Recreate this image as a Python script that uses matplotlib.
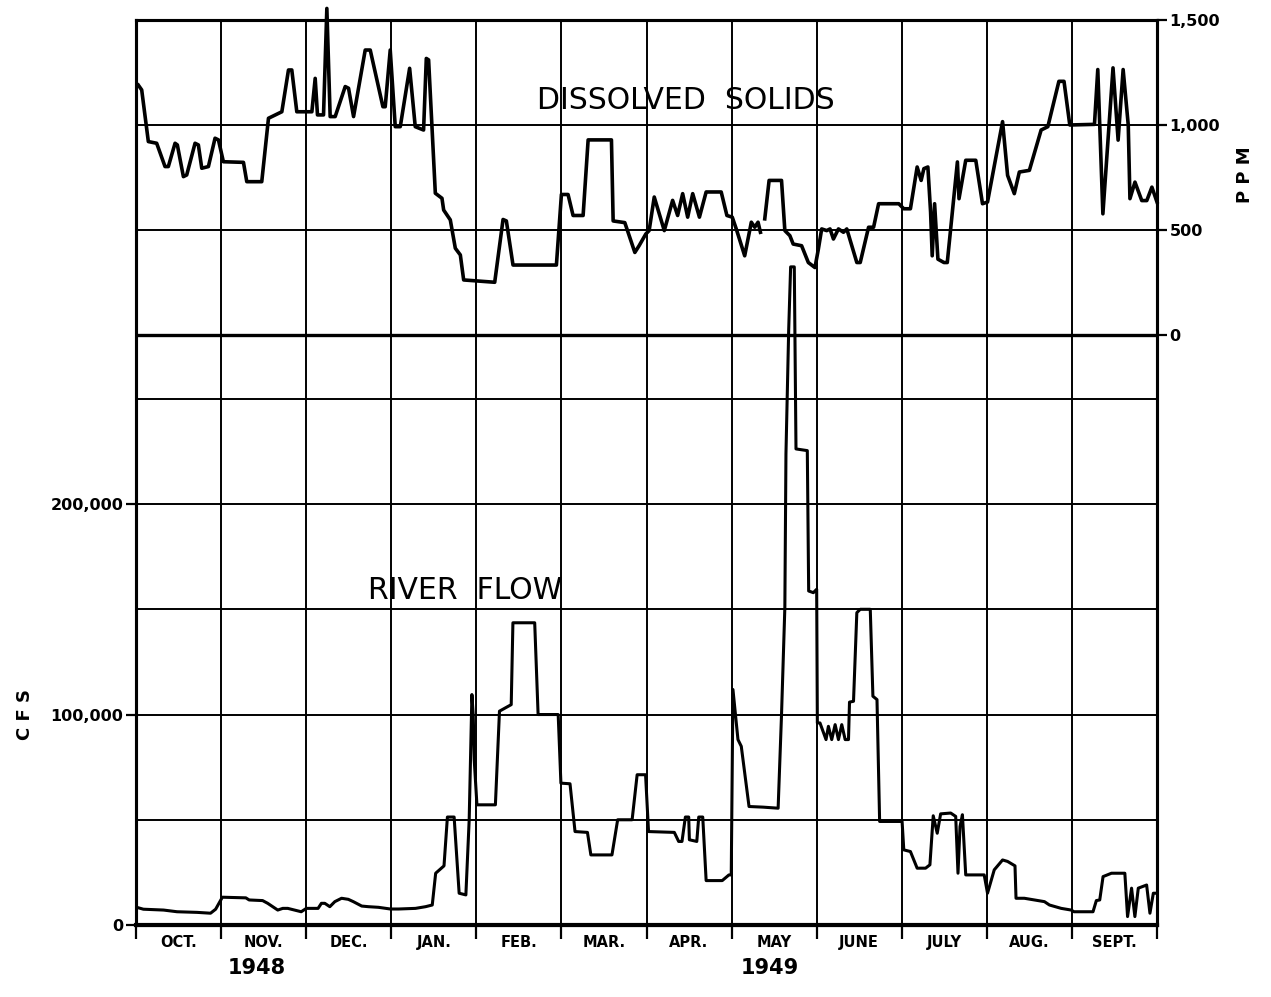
import numpy as np
import matplotlib.pyplot as plt

# water year Oct 1948 - Sep 1949, x in months from Oct 1
months = ["OCT.", "NOV.", "DEC.", "JAN.", "FEB.", "MAR.",
          "APR.", "MAY", "JUNE", "JULY", "AUG.", "SEPT."]

flow_t = [0.008, 0.087, 0.324, 0.482, 0.719, 0.876, 0.936, 1.015, 1.291, 1.330,
          1.488, 1.548, 1.666, 1.725, 1.784, 1.863, 1.942, 2.002, 2.140, 2.179,
          2.219, 2.278, 2.337, 2.416, 2.495, 2.554, 2.653, 2.732, 2.850, 2.989,
          3.087, 3.285, 3.403, 3.482, 3.522, 3.620, 3.660, 3.739, 3.798, 3.877,
          3.916, 3.948, 3.964, 3.975, 4.007, 4.224, 4.272, 4.410, 4.430, 4.686,
          4.726, 4.962, 4.994, 5.101, 5.160, 5.306, 5.346, 5.594, 5.661, 5.831,
          5.890, 5.989, 6.024, 6.327, 6.378, 6.417, 6.457, 6.496, 6.504, 6.591,
          6.614, 6.661, 6.701, 6.890, 6.969, 6.996, 7.016, 7.075, 7.114, 7.205,
          7.370, 7.547, 7.587, 7.626, 7.639, 7.671, 7.694, 7.737, 7.757, 7.890,
          7.906, 7.961, 8.000, 8.008, 8.039, 8.110, 8.138, 8.177, 8.217, 8.256,
          8.295, 8.335, 8.374, 8.386, 8.433, 8.472, 8.512, 8.630, 8.661, 8.709,
          8.740, 9.004, 9.024, 9.102, 9.181, 9.280, 9.331, 9.370, 9.417, 9.457,
          9.575, 9.634, 9.661, 9.685, 9.713, 9.752, 9.969, 10.008, 10.087, 10.185,
          10.244, 10.331, 10.343, 10.441, 10.677, 10.736, 10.874, 10.992, 11.024, 11.248,
          11.287, 11.327, 11.366, 11.465, 11.622, 11.654, 11.701, 11.740, 11.780, 11.878,
          11.917, 11.957, 11.996]
flow_cfs = [8400, 7500, 7100, 6300, 6000, 5600, 7500, 13200, 12900, 11900,
            11600, 10300, 7100, 7900, 7900, 7100, 6300, 7900, 7900, 10300,
            10300, 8700, 11100, 12700, 12200, 11100, 9000, 8700, 8400, 7600,
            7600, 7900, 8700, 9500, 24600, 28100, 51300, 51300, 15100, 14300,
            50000, 109500, 99200, 78600, 57100, 57100, 101600, 104700, 143600, 143600,
            100000, 100000, 67400, 67100, 44400, 44000, 33300, 33300, 50000, 50000,
            71400, 71400, 44400, 44000, 39700, 39700, 51300, 51300, 40500, 39700,
            51300, 51300, 21100, 21100, 23800, 23800, 111900, 88100, 84900, 56300,
            56000, 55500, 100000, 150800, 223800, 282500, 312700, 312700, 226200, 225400,
            158700, 157900, 159500, 96000, 96000, 88100, 94400, 88100, 95200, 88100,
            95200, 88100, 88100, 105900, 106300, 148400, 150000, 150000, 108700, 107100,
            49200, 49200, 35700, 34900, 27000, 27000, 28600, 51900, 43600, 52800,
            53200, 51600, 24600, 46800, 52400, 23800, 23800, 15100, 26200, 30900,
            30200, 28100, 12700, 12700, 11100, 9500, 7900, 7100, 6300, 6300,
            11600, 11900, 23000, 24600, 24600, 4000, 17500, 4000, 17500, 19000,
            5600, 15100, 15100]

tds_t = [0.027, 0.067, 0.145, 0.243, 0.341, 0.380, 0.459, 0.486, 0.557, 0.596,
         0.694, 0.733, 0.773, 0.851, 0.929, 0.969, 1.027, 1.263, 1.302, 1.478,
         1.557, 1.714, 1.792, 1.831, 1.890, 2.067, 2.106, 2.133, 2.204, 2.243,
         2.282, 2.341, 2.459, 2.498, 2.557, 2.694, 2.753, 2.902, 2.929, 2.988,
         3.047, 3.106, 3.216, 3.282, 3.380, 3.412, 3.439, 3.478, 3.518, 3.596,
         3.616, 3.694, 3.753, 3.812, 3.851, 4.216, 4.314, 4.353, 4.431, 4.941,
         5.000, 5.078, 5.137, 5.255, 5.314, 5.588, 5.608, 5.745, 5.863, 5.913,
         5.992, 6.031, 6.091, 6.209, 6.307, 6.366, 6.425, 6.484, 6.543, 6.622,
         6.701, 6.878, 6.945, 7.008, 7.055, 7.154, 7.232, 7.272, 7.311, 7.339,
         7.365, 7.390, 7.441, 7.587, 7.626, 7.685, 7.724, 7.823, 7.902, 7.980,
         8.020, 8.059, 8.118, 8.157, 8.197, 8.256, 8.315, 8.354, 8.472, 8.512,
         8.610, 8.669, 8.728, 8.965, 9.024, 9.102, 9.181, 9.228, 9.260, 9.307,
         9.339, 9.358, 9.386, 9.425, 9.496, 9.535, 9.654, 9.673, 9.752, 9.870,
         9.949, 10.008, 10.185, 10.244, 10.323, 10.382, 10.500, 10.638, 10.717, 10.847,
         10.907, 10.975, 11.265, 11.304, 11.364, 11.483, 11.543, 11.602, 11.662, 11.682,
         11.741, 11.821, 11.880, 11.940, 12.000]
tds_ppm = [1190, 1167, 921, 913, 802, 802, 913, 905, 754, 762,
           913, 905, 794, 802, 937, 929, 825, 822, 730, 730,
           1032, 1063, 1262, 1262, 1063, 1063, 1222, 1048, 1048, 1555,
           1040, 1040, 1183, 1175, 1040, 1357, 1357, 1087, 1087, 1357,
           992, 992, 1270, 992, 976, 1317, 1310, 1000, 675, 651,
           595, 548, 413, 381, 262, 251, 550, 543, 333, 333,
           669, 669, 569, 569, 929, 929, 543, 535, 393, 425,
           481, 497, 657, 497, 641, 569, 673, 561, 673, 561,
           681, 681, 569, 561, 505, 377, 537, 513, 537, 489,
           np.nan, 553, 736, 736, 497, 473, 433, 425, 345, 321,
           409, 505, 497, 505, 457, 505, 489, 505, 345, 345,
           513, 513, 625, 625, 601, 601, 800, 736, 792, 800,
           585, 377, 625, 361, 345, 345, 824, 649, 832, 832,
           625, 633, 1016, 760, 673, 776, 784, 976, 992, 1208,
           1208, 1000, 1003, 1264, 577, 1272, 928, 1264, 1000, 649,
           728, 640, 640, 704, 633]

W, H = 1271, 997
fig = plt.figure(figsize=(W / 100, H / 100), dpi=100)
x0, x1, y0, y1 = 136, 1157, 20, 925
ax = fig.add_axes([x0 / W, 1 - y1 / H, (x1 - x0) / W, (y1 - y0) / H])
ax.set_xlim(0, 12)
ax.set_ylim(0, 430000)
ax2 = ax.twinx()
ax2.set_ylim(-2810, 1500)

font = "DejaVu Sans"

# grid
for m in range(1, 12):
    ax.axvline(m, color="black", lw=1.4, zorder=1)
for v in (50000, 100000, 150000, 200000, 250000):
    ax.axhline(v, color="black", lw=1.4, zorder=1)
for v in (500, 1000):
    ax2.axhline(v, color="black", lw=1.4, zorder=1)
ax2.axhline(0, color="black", lw=2.4, zorder=1)

ax.plot(flow_t, flow_cfs, color="black", lw=2.2, solid_joinstyle="round", zorder=3)
ax2.plot(tds_t, tds_ppm, color="black", lw=2.6, solid_joinstyle="round",
         zorder=3, clip_on=False)

for a in (ax, ax2):
    for s in a.spines.values():
        s.set_linewidth(2.2)
ax.spines["bottom"].set_linewidth(3.0)

# left scale
ax.set_yticks([0, 100000, 200000])
ax.set_yticklabels(["0", "100,000", "200,000"], fontsize=11.5,
                   fontweight="bold", family=font)
ax.tick_params(axis="y", direction="out", length=7, width=1.6, pad=2)

# right scale
ax2.set_yticks([0, 500, 1000, 1500])
ax2.set_yticklabels(["0", "500", "1,000", "1,500"], fontsize=11.5,
                    fontweight="bold", family=font)
ax2.tick_params(axis="y", direction="out", length=7, width=1.6, pad=2)

# months
ax.set_xticks(range(13))
ax.set_xticklabels([])
ax.tick_params(axis="x", which="major", direction="out", length=10, width=1.6)
ax.set_xticks(np.arange(12) + 0.5, minor=True)
ax.set_xticklabels(months, minor=True, fontsize=10.5, fontweight="bold", family=font)
ax.tick_params(axis="x", which="minor", length=0, pad=7)

fig.text(257 / W, 1 - 968 / H, "1948", ha="center", va="center",
         fontsize=15, fontweight="bold", family=font)
fig.text(770 / W, 1 - 968 / H, "1949", ha="center", va="center",
         fontsize=15, fontweight="bold", family=font)
fig.text(25 / W, 1 - 715 / H, "C F S", ha="center", va="center", rotation=90,
         fontsize=13, fontweight="bold", family=font)
fig.text(1245 / W, 1 - 175 / H, "P P M", ha="center", va="center", rotation=90,
         fontsize=13, fontweight="bold", family=font)

ax2.text(6.46, 1119, "DISSOLVED  SOLIDS", ha="center", va="center",
         fontsize=21.5, family=font, zorder=4)
ax.text(3.87, 159000, "RIVER  FLOW", ha="center", va="center",
        fontsize=21.5, family=font, zorder=4)

fig.savefig("out.png", dpi=100, facecolor="white")
